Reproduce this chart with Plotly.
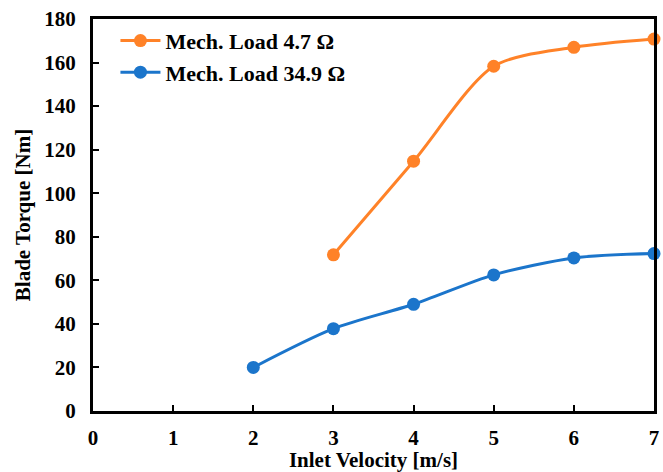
import plotly.graph_objects as go

x_orange = [3, 4, 5, 6, 7]
y_orange = [71.7, 114.7, 158.3, 167.0, 170.8]
x_blue = [2, 3, 4, 5, 6, 7]
y_blue = [20.0, 37.8, 49.0, 62.5, 70.3, 72.3]
name_orange = "Mech. Load 4.7 Ω"
name_blue = "Mech. Load 34.9 Ω"

FAM = "Liberation Serif"
font = dict(family=FAM, size=21, color="black")

fig = go.Figure()
fig.add_trace(go.Scatter(x=x_orange, y=y_orange, name=name_orange, mode="lines+markers",
                         line=dict(color="#FF8228", width=3, shape="spline", smoothing=0.8),
                         marker=dict(size=13, color="#FF8228"), cliponaxis=False))
fig.add_trace(go.Scatter(x=x_blue, y=y_blue, name=name_blue, mode="lines+markers",
                         line=dict(color="#1B75CB", width=3, shape="spline", smoothing=0.8),
                         marker=dict(size=13, color="#1B75CB"), cliponaxis=False))

axis_common = dict(showgrid=False, zeroline=False, showline=True, linecolor="black", linewidth=3,
                   mirror=True, ticks="inside", ticklen=6, tickwidth=2, tickcolor="black",
                   tickfont=dict(family=FAM, size=21, color="black", weight="bold"))
fig.update_xaxes(range=[0, 7], dtick=1, ticklabelstandoff=6,
                 title=dict(text="<b>Inlet Velocity [m/s]</b>", standoff=0,
                            font=dict(family=FAM, size=21, color="black")), **axis_common)
fig.update_yaxes(range=[0, 180], dtick=20, ticklabelstandoff=10,
                 title=dict(text="<b>Blade Torque [Nm]</b>", standoff=8,
                            font=dict(family=FAM, size=21, color="black")), **axis_common)

fig.update_layout(width=663, height=472, margin=dict(l=93, r=4, t=19, b=61),
                  plot_bgcolor="white", paper_bgcolor="white", font=font,
                  legend=dict(x=0.04, y=0.998, xanchor="left", yanchor="top", bgcolor="rgba(0,0,0,0)",
                              font=dict(family=FAM, size=22, color="black", weight="bold"),
                              itemwidth=40))
fig.write_html("out.html")
